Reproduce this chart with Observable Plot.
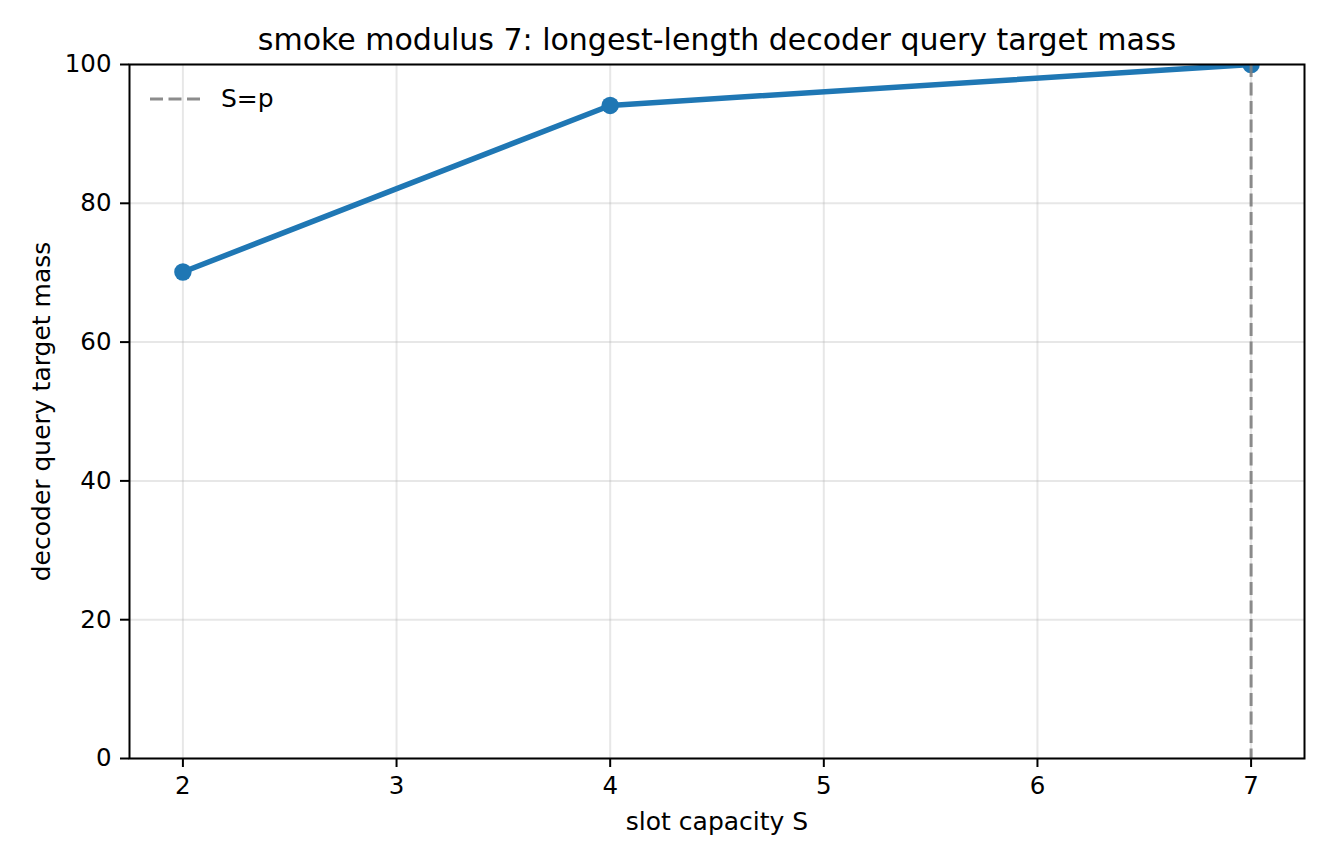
<!DOCTYPE html>
<html>
<head>
<meta charset="utf-8">
<script src="https://cdn.jsdelivr.net/npm/d3@7"></script>
<script src="https://cdn.jsdelivr.net/npm/@observablehq/plot@0.6"></script>
<style>
  html, body { margin: 0; padding: 0; background: #fff; }
  #chart svg { display: block; font-family: "DejaVu Sans", sans-serif; }
</style>
</head>
<body>
<div id="chart"></div>
<script>
const slotCapacity = [2, 4, 7];
const targetMass = [70.1, 94.1, 100.0];
const xTicks = [2, 3, 4, 5, 6, 7];
const yTicks = [0, 20, 40, 60, 80, 100];
const modulusP = [7];
const titleText = "smoke modulus 7: longest-length decoder query target mass";
const xLabel = "slot capacity S";
const yLabel = "decoder query target mass";
const legendLabel = "S=p";

const data = slotCapacity.map((s, i) => ({s, m: targetMass[i]}));

const mL = 129, mR = 28, mT = 64, mB = 106;
const blue = "#1f77b4";

const chart = Plot.plot({
  width: 1332,
  height: 864,
  marginLeft: mL,
  marginRight: mR,
  marginTop: mT,
  marginBottom: mB,
  style: {fontFamily: "DejaVu Sans, sans-serif", fontSize: "24px", color: "black", background: "white"},
  x: {domain: [1.75, 7.25], ticks: xTicks, label: null},
  y: {domain: [0, 100], ticks: yTicks, label: null},
  marks: [
    Plot.gridX(xTicks, {stroke: "#b0b0b0", strokeOpacity: 0.3, strokeWidth: 2}),
    Plot.gridY(yTicks, {stroke: "#b0b0b0", strokeOpacity: 0.3, strokeWidth: 2}),
    Plot.line(data, {x: "s", y: "m", stroke: blue, strokeWidth: 5.5, clip: "frame"}),
    Plot.dot(data, {x: "s", y: "m", fill: blue, stroke: "none", r: 8.7, clip: "frame"}),
    Plot.ruleX(modulusP, {stroke: "gray", strokeOpacity: 0.9, strokeWidth: 3, strokeDasharray: "13,5.5", clip: "frame"}),
    Plot.frame({stroke: "black", strokeWidth: 2}),
    Plot.axisX(xTicks, {tickSize: 9, tickPadding: 9, strokeWidth: 2, fontSize: 24.5, fill: "black", label: null, tickFormat: d => String(d)}),
    Plot.axisY(yTicks, {tickSize: 9, tickPadding: 9, strokeWidth: 2, fontSize: 24.5, fill: "black", label: null, tickFormat: d => String(d)}),
    Plot.text([titleText], {frameAnchor: "top", lineAnchor: "bottom", dy: -15, fontSize: 30, fill: "black"}),
    Plot.text([xLabel], {frameAnchor: "bottom", lineAnchor: "bottom", dy: 71, fontSize: 25, fill: "black"}),
    Plot.text([yLabel], {frameAnchor: "left", textAnchor: "middle", rotate: -90, lineAnchor: "middle", dx: -88, fontSize: 25, fill: "black"})
  ]
});

// legend (non-data decoration) placed relative to the frame
const svg = d3.select(chart);
const lg = svg.append("g").attr("transform", `translate(${mL},${mT})`);
lg.append("line")
  .attr("x1", 21).attr("x2", 73).attr("y1", 35).attr("y2", 35)
  .attr("stroke", "gray").attr("stroke-opacity", 0.9)
  .attr("stroke-width", 3).attr("stroke-dasharray", "13,5.5");
lg.append("text")
  .attr("x", 92).attr("y", 43)
  .attr("text-anchor", "start")
  .attr("font-size", 25).attr("fill", "black")
  .attr("font-family", "DejaVu Sans, sans-serif")
  .text(legendLabel);

document.getElementById("chart").appendChild(chart);
</script>
</body>
</html>
